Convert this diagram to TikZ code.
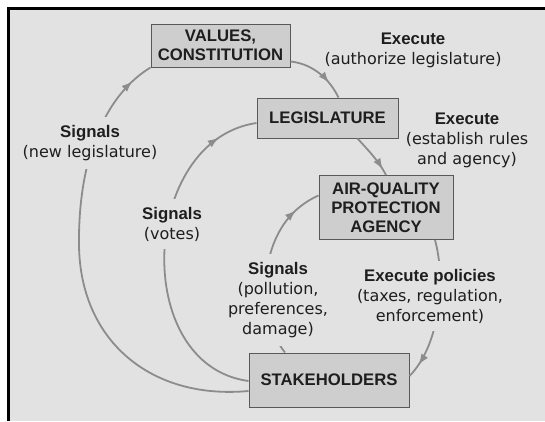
\documentclass[tikz,border=0pt]{standalone}
\usepackage{fontspec}
\setmainfont{DejaVu Sans}
\newfontfamily\headfont{Liberation Sans}
\usetikzlibrary{arrows.meta,decorations.markings}

\definecolor{fond}{HTML}{E2E2E2}
\definecolor{boite}{HTML}{CECECE}
\definecolor{trait}{HTML}{8C8C8C}
\definecolor{encre}{HTML}{1E1E1E}

\tikzset{
  boxnode/.style={draw=black!65, fill=boite, line width=1pt, text=encre, align=center,
    font=\headfont\bfseries\fontsize{16.7}{19}\selectfont, inner sep=0pt},
  flow/.style={trait, line width=1.8pt},
  arrowat/.style={postaction={decorate}, decoration={markings,
    mark=at position #1 with {\arrow{Latex[length=11pt,width=8pt,color=trait]}}}},
  lbl/.style={align=center, text=encre, font=\fontsize{16}{20}\selectfont},
  gaplabel/.style={lbl, fill=fond, inner xsep=3pt, inner ysep=8pt},
}
\newcommand{\hd}[1]{{\headfont\bfseries\fontsize{16.8}{20}\selectfont #1}}

\begin{document}
\begin{tikzpicture}[x=1pt, y=-1pt]

    % frame
    \useasboundingbox (0,0) rectangle (545,421);
    \fill[white] (0,0) rectangle (545,421);
    \fill[fond] (9,8.5) rectangle (545,421);
    \draw[line width=2.4pt] (8.5,421) -- (8.5,8.5) -- (545,8.5);

    % boxes
    \node[boxnode, minimum width=139pt, minimum height=43pt] (values) at (220.5,45.5) {VALUES,\\CONSTITUTION};
    \node[boxnode, minimum width=141pt, minimum height=40pt] (legis) at (327.5,118) {LEGISLATURE};
    \node[boxnode, minimum width=134pt, minimum height=64pt] (agency) at (386,207.5) {AIR-QUALITY\\PROTECTION\\AGENCY};
    \node[boxnode, minimum width=160pt, minimum height=54pt] (stake) at (329,380) {STAKEHOLDERS};

    % values -> legislature -> agency -> stakeholders
    \draw[flow, arrowat=0.72] ([yshift=6pt]values.south east) .. controls (314,64) and (330,80) .. ([xshift=11pt]legis.north);
    \draw[flow, arrowat=0.86] ([xshift=30pt]legis.south) .. controls (368,150) and (378,160) .. (agency.north);
    \draw[flow, arrowat=0.9] ([xshift=49pt]agency.south) .. controls (446,280) and (440,345) .. ([yshift=4pt]stake.east);

    % signals back up
    \draw[flow, arrowat=0.95] ([yshift=-11pt]stake.west) .. controls (150,400) and (80,340) .. (79,245)
        .. controls (78,150) and (110,92) .. (values.south west);
    \draw[flow, arrowat=0.88] ([yshift=-1pt]stake.west) .. controls (130,365) and (140,140) .. ([yshift=-5pt]legis.west);
    \draw[flow, arrowat=0.85] ([xshift=-44pt]stake.north) .. controls (258,320) and (252,225) .. ([yshift=12pt]agency.west);

    % texts
    \node[lbl] (execa) at (413,50) {\hd{Execute}\\(authorize legislature)};
    \node[lbl] (execb) at (467,140) {\hd{Execute}\\(establish rules\\and agency)};
    \node[gaplabel] (siga) at (90,143) {\hd{Signals}\\(new legislature)};
    \node[gaplabel] (sigb) at (172,224) {\hd{Signals}\\(votes)};
    \node[gaplabel] (sigc) at (278,300) {\hd{Signals}\\(pollution,\\preferences,\\damage)};
    \node[gaplabel] (execc) at (430,296) {\hd{Execute policies}\\(taxes, regulation,\\enforcement)};

\end{tikzpicture}
\end{document}
